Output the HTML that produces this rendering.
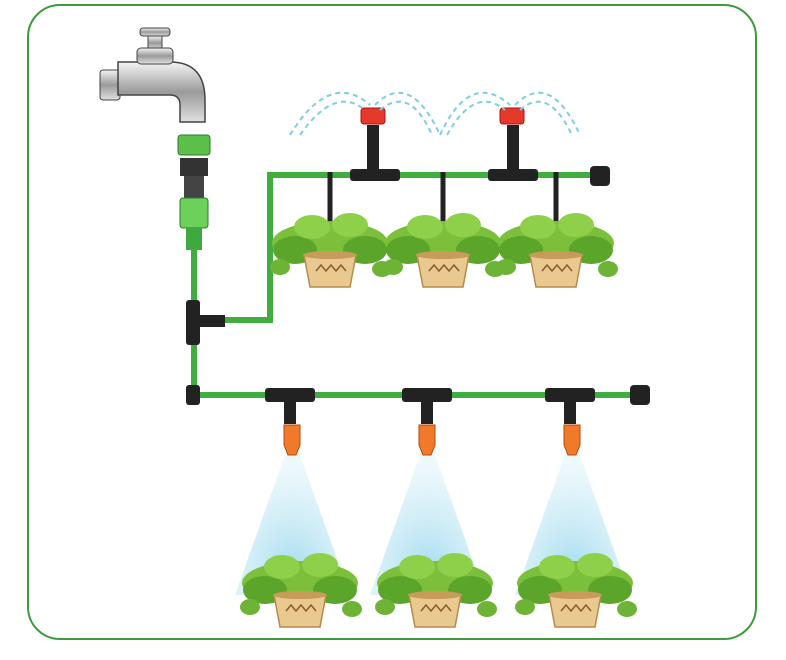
<!DOCTYPE html>
<html><head><meta charset="utf-8"><style>
html,body{margin:0;padding:0;background:#fff;width:786px;height:660px;overflow:hidden}
</style></head><body>
<svg width="786" height="660" viewBox="0 0 786 660" xmlns="http://www.w3.org/2000/svg">
<defs>
<radialGradient id="mist" cx="50%" cy="80%" r="75%">
<stop offset="0" stop-color="#a9def0" stop-opacity="1"/>
<stop offset="1" stop-color="#d6f0f8" stop-opacity="0.4"/>
</radialGradient>
<linearGradient id="metal" x1="0" y1="0" x2="0" y2="1">
<stop offset="0" stop-color="#f4f4f4"/><stop offset="0.5" stop-color="#9a9a9a"/><stop offset="1" stop-color="#e0e0e0"/>
</linearGradient>
<g id="plant">
<ellipse cx="0" cy="-12" rx="58" ry="22" fill="#7cbf3a"/>
<ellipse cx="-35" cy="-5" rx="22" ry="14" fill="#5aa52a"/>
<ellipse cx="35" cy="-5" rx="22" ry="14" fill="#5aa52a"/>
<ellipse cx="-18" cy="-28" rx="18" ry="12" fill="#8fd04a"/>
<ellipse cx="20" cy="-30" rx="18" ry="12" fill="#8fd04a"/>
<ellipse cx="-50" cy="12" rx="10" ry="8" fill="#6db436"/>
<ellipse cx="52" cy="14" rx="10" ry="8" fill="#6db436"/>
<path d="M-26 0 L26 0 L20 32 L-20 32 Z" fill="#e9c98f" stroke="#b58b4c" stroke-width="1.5"/>
<path d="M-14 16 l5 -6 l5 6 l5 -6 l5 6 l5 -6 l5 6" fill="none" stroke="#8a5a2a" stroke-width="1.5"/>
<ellipse cx="0" cy="0" rx="27" ry="4" fill="#c79b5a"/>
</g>
</defs>
<rect x="28" y="5" width="728" height="634" rx="32" fill="#fff" stroke="#3d9b3d" stroke-width="2"/>

<rect x="140" y="28" width="30" height="8" rx="3" fill="url(#metal)" stroke="#444"/>
<rect x="148" y="36" width="14" height="14" fill="url(#metal)" stroke="#444"/>
<rect x="100" y="70" width="20" height="30" rx="3" fill="url(#metal)" stroke="#444"/>
<path d="M118 62 H170 Q205 62 205 100 V122 H180 V105 Q180 95 170 95 H118 Z" fill="url(#metal)" stroke="#444" stroke-width="1.5"/>
<rect x="137" y="48" width="36" height="16" rx="4" fill="url(#metal)" stroke="#444"/>

<rect x="178" y="135" width="32" height="20" rx="3" fill="#5cbf4a" stroke="#2e7a2e"/>
<rect x="180" y="158" width="28" height="18" fill="#333"/>
<rect x="184" y="176" width="20" height="22" fill="#444"/>
<rect x="180" y="198" width="28" height="30" rx="3" fill="#6bd15a" stroke="#2e7a2e"/>
<rect x="186" y="228" width="16" height="22" fill="#3fa83f"/>

<path d="M285 455 L300 455 L350 595 L235 595 Z" fill="url(#mist)"/>
<path d="M420 455 L435 455 L485 595 L370 595 Z" fill="url(#mist)"/>
<path d="M565 455 L580 455 L630 595 L515 595 Z" fill="url(#mist)"/>

<g stroke="#3fae3f" stroke-width="6" fill="none" stroke-linecap="round">
<path d="M194 250 V395 H640"/>
<path d="M194 320 H270 V175 H600"/>
</g>
<g fill="#222">
<rect x="186" y="300" width="14" height="45" rx="3"/>
<rect x="195" y="315" width="30" height="12"/>
<rect x="186" y="385" width="14" height="20" rx="3"/>
<rect x="265" y="388" width="50" height="14" rx="3"/><rect x="284" y="400" width="12" height="24"/>
<rect x="402" y="388" width="50" height="14" rx="3"/><rect x="421" y="400" width="12" height="24"/>
<rect x="545" y="388" width="50" height="14" rx="3"/><rect x="564" y="400" width="12" height="24"/>
<rect x="630" y="385" width="20" height="20" rx="4"/>
<rect x="350" y="169" width="50" height="12" rx="3"/><rect x="367" y="125" width="12" height="46"/>
<rect x="488" y="169" width="50" height="12" rx="3"/><rect x="507" y="125" width="12" height="46"/>
<rect x="590" y="166" width="20" height="20" rx="4"/>
</g>
<g stroke="#222" stroke-width="5">
<line x1="330" y1="172" x2="330" y2="252"/>
<line x1="443" y1="172" x2="443" y2="252"/>
<line x1="556" y1="172" x2="556" y2="252"/>
</g>
<g fill="#e53a2a" stroke="#a11">
<rect x="361" y="108" width="24" height="16" rx="3"/>
<rect x="500" y="108" width="24" height="16" rx="3"/>
</g>
<g fill="none" stroke="#7fcde0" stroke-width="2" stroke-dasharray="5 4">
<path d="M290 135 Q330 70 370 105"/><path d="M300 135 Q335 85 365 110"/>
<path d="M375 105 Q410 70 440 135"/><path d="M380 110 Q410 85 432 135"/>
<path d="M440 135 Q470 70 510 105"/><path d="M447 135 Q475 85 505 110"/>
<path d="M515 105 Q550 70 580 135"/><path d="M520 110 Q548 85 572 135"/>
</g>
<use href="#plant" x="330" y="255"/>
<use href="#plant" x="443" y="255"/>
<use href="#plant" x="556" y="255"/>

<g fill="#f07a2a" stroke="#b24a10">
<path d="M284 425 h16 v20 l-4 10 h-8 l-4 -10 z"/>
<path d="M419 425 h16 v20 l-4 10 h-8 l-4 -10 z"/>
<path d="M564 425 h16 v20 l-4 10 h-8 l-4 -10 z"/>
</g>
<use href="#plant" x="300" y="595"/>
<use href="#plant" x="435" y="595"/>
<use href="#plant" x="575" y="595"/>
</svg>
</body></html>
